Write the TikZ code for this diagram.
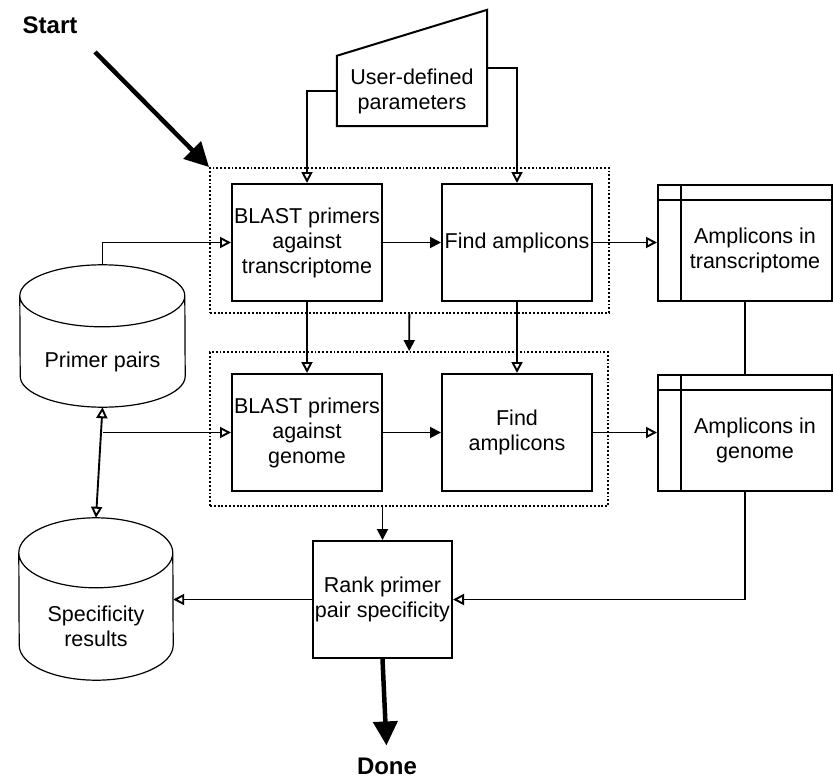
\documentclass[tikz,border=0pt]{standalone}
\usepackage{fontspec}
\setmainfont{Liberation Sans}
\usetikzlibrary{arrows.meta,calc,fit}

\begin{document}
\begin{tikzpicture}[x=1pt,y=-1pt]
\tikzstyle{every node}+=[node distance=210pt,font=\fontsize{21.5}{25}\selectfont,align=center,inner sep=0pt]
\tikzstyle{proc}=[draw,line width=2pt,minimum width=150pt,minimum height=117pt]
\tikzstyle{store}=[draw,line width=2pt,minimum width=174pt,minimum height=116pt,
  path picture={\draw[line width=2pt]
    ([xshift=23pt]path picture bounding box.north west) -- ([xshift=23pt]path picture bounding box.south west)
    ([yshift=-15pt]path picture bounding box.north west) -- ([yshift=-15pt]path picture bounding box.north east);}]
\tikzstyle{db}=[line width=1.2pt]
\tikzstyle{grp}=[draw,line width=1.9pt,dash pattern=on 1.9pt off 1.9pt]
\tikzstyle{lnk}=[line width=1.9pt,-{Triangle[open,length=11pt,width=11pt]}]
\tikzstyle{flow}=[line width=1.9pt,-{Triangle[length=11pt,width=11pt]}]
\tikzstyle{big}=[line width=4.5pt,-{Triangle[length=24pt,width=24pt]}]
\tikzstyle{bold}=[font=\fontsize{24}{28}\selectfont\bfseries]

\fill[white] (0,0) rectangle (834,778);
\useasboundingbox (0,0) rectangle (834,778);

\node[proc] (blastT) at (307,242.5) {BLAST primers\\against\\transcriptome};
\node[proc] (findT) [right of=blastT] {Find amplicons};
\node[store,label={[xshift=10pt,yshift=-8pt]center:Amplicons in\\transcriptome}] (ampT) [right of=findT,node distance=228pt] {};
\node[proc] (blastG) [below of=blastT,node distance=190pt] {BLAST primers\\against\\genome};
\node[proc] (findG) [below of=findT,node distance=190pt] {Find\\amplicons};
\node[store,label={[xshift=10pt,yshift=-8pt]center:Amplicons in\\genome}] (ampG) [below of=ampT,node distance=190pt] {};
\node[proc,minimum width=139pt] (rank) at (382.5,599.5) {Rank primer\\pair specificity};
\node[minimum width=165pt,minimum height=142pt,label={[yshift=-26pt]center:Primer pairs}] (prim) at (102.5,336) {};
\node[minimum width=154pt,minimum height=162pt,label={[yshift=-27pt]center:Specificity\\results}] (spec) at (96,599) {};
\node[minimum width=150pt,minimum height=70pt] (param) at (412,91) {User-defined\\parameters};

\draw[db] ($(prim.north west)+(0,31)$) arc[start angle=180,end angle=0,x radius=82.5pt,y radius=31pt]
  -- ($(prim.south east)+(0,-31)$) arc[start angle=0,end angle=-180,x radius=82.5pt,y radius=31pt] -- cycle
  ($(prim.north west)+(0,31)$) arc[start angle=180,end angle=360,x radius=82.5pt,y radius=31pt];
\draw[db] ($(spec.north west)+(0,35)$) arc[start angle=180,end angle=0,x radius=77pt,y radius=35pt]
  -- ($(spec.south east)+(0,-35)$) arc[start angle=0,end angle=-180,x radius=77pt,y radius=35pt] -- cycle
  ($(spec.north west)+(0,35)$) arc[start angle=180,end angle=360,x radius=77pt,y radius=35pt];
\draw[line width=2pt] (param.south west) -- (param.north west) -- ($(param.north east)+(0,-46)$) -- (param.south east) -- cycle;

\node[grp,fit={($(blastT.north west)+(-21,-15)$) ($(findT.south east)+(16,11)$)}] (upper) {};
\node[grp,fit={($(blastG.north west)+(-21,-21)$) ($(findG.south east)+(15,14)$)}] (lower) {};

\node[bold] (start) at (50,25) {Start};
\coordinate (s0) at (95,52);
\node[bold] (done) at (387,766) {Done};

\draw[lnk] (param.west) -| (blastT.north);
\draw[lnk] ($(param.east)+(0,-23)$) -| (findT.north);
\draw[flow] (blastT) -- (findT);
\draw[lnk] (findT.east) -- (findT.east -| ampT.west);
\draw[lnk] (blastT) -- (blastG);
\draw[lnk] (findT) -- (findG);
\draw[flow] (blastG) -- (findG);
\draw[lnk] (findG.east) -- (findG.east -| ampG.west);
\draw[flow] (upper) -- (lower);
\draw[flow] (lower.south -| rank.north) -- (rank.north);
\draw[line width=1.9pt] (ampT) -- (ampG);
\draw[lnk] (ampG.south) |- (rank.east);
\draw[lnk] (rank.west) -- (rank.west -| spec.east);
\draw[lnk] (prim.north) |- (blastT.west);
\draw[lnk,{Triangle[open,length=11pt,width=11pt]}-{Triangle[open,length=11pt,width=11pt]}] (prim.south) -- (spec.north);
\draw[lnk] (blastG.west -| prim.south) -- (blastG.west);
\draw[big] (s0) -- (upper.north west);
\draw[big,shorten >=12pt] (rank.south) -- (done.north);
\end{tikzpicture}
\end{document}
